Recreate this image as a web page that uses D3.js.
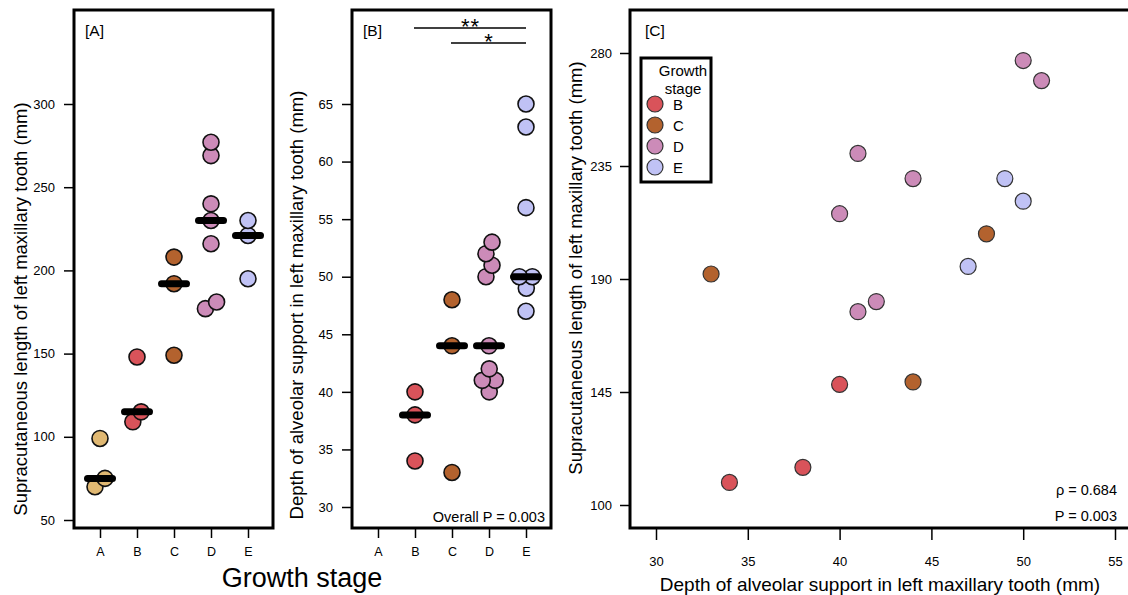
<!DOCTYPE html>
<html>
<head>
<meta charset="utf-8">
<script src="https://cdn.jsdelivr.net/npm/d3@7"></script>
<style>
  body { margin: 0; background: #fff; }
  svg { font-family: 'Liberation Sans', Arial, sans-serif; }
</style>
</head>
<body>
<svg id="chart" width="1128" height="595"></svg>
<script>
// growth stages and their colours
const stages = ['A', 'B', 'C', 'D', 'E'];
const stageColors = ['#e0b872', '#d9535a', '#b3622e', '#cc8bb8', '#c0c2f5'];

// [A] supracutaneous length (mm) by stage
const lengthA = [70, 75, 99];
const lengthB = [109, 115, 148];
const lengthC = [149, 192, 208];
const lengthD = [177, 181, 216, 230, 240, 269, 277];
const lengthE = [195, 221, 230];

// [B] depth of alveolar support (mm) by stage
const depthA = [];
const depthB = [34, 38, 40];
const depthC = [33, 44, 48];
const depthD = [40, 41, 41, 42, 44, 50, 51, 52, 53];
const depthE = [47, 49, 50, 50, 56, 63, 65];

// [C] paired measurements
const scatterStage = ['B', 'B', 'B', 'C', 'C', 'C', 'D', 'D', 'D', 'D', 'D', 'D', 'D', 'E', 'E', 'E'];
const scatterDepth = [34, 38, 40, 33, 44, 48, 40, 41, 44, 41, 42, 50, 51, 47, 49, 50];
const scatterLength = [109, 115, 148, 192, 149, 208, 216, 240, 230, 177, 181, 277, 269, 195, 230, 221];

// ticks
const ticksLengthA = [50, 100, 150, 200, 250, 300];
const ticksDepthB = [30, 35, 40, 45, 50, 55, 60, 65];
const ticksDepthC = [30, 35, 40, 45, 50, 55];
const ticksLengthC = [100, 145, 190, 235, 280];

// significance brackets
const sigFrom = ['B', 'C'];
const sigTo = ['E', 'E'];
const sigLabel = ['**', '*'];

const overallP = 'Overall P = 0.003';
const rhoText = '\u03c1 = 0.684';
const corrP = 'P = 0.003';

const color = d3.scaleOrdinal().domain(stages).range(stageColors);
const svg = d3.select('#chart');

const plotTop = 10, plotBottom = 528;
const R = 8;
const titleSize = 18.5;

// beeswarm-ish horizontal offsets, computed in pixel space
function swarm(values, y, c) {
  const order = values.map((v, i) => i).sort((a, b) => values[a] - values[b]);
  const placed = [];
  const off = values.map(() => 0);
  order.forEach(i => {
    const py = y(values[i]);
    const near = placed.filter(p => Math.abs(p.y - py) < c);
    const cands = [0];
    near.forEach(p => {
      const dx = Math.sqrt(c * c - (p.y - py) ** 2);
      cands.push(p.x + dx, p.x - dx);
    });
    cands.sort((a, b) => Math.abs(a) - Math.abs(b) || b - a);
    const x = cands.find(cx => near.every(p => Math.hypot(p.x - cx, p.y - py) >= c - 1e-6));
    placed.push({ i, y: py, x });
  });
  let cluster = [];
  const flush = () => {
    const m = d3.mean(cluster, p => p.x);
    cluster.forEach(p => { off[p.i] = p.x - m; });
    cluster = [];
  };
  placed.forEach((p, k) => {
    if (k > 0 && Math.abs(p.y - placed[k - 1].y) >= c) flush();
    cluster.push(p);
  });
  if (cluster.length) flush();
  return off;
}

function stripPanel(opts) {
  const { left, right, groups, y, ticks, tag, title, titleX, titleY } = opts;
  const x = d3.scalePoint().domain(stages).range([left + 26, right - 25]);
  const g = svg.append('g');

  g.append('g')
    .attr('transform', `translate(${left},0)`)
    .call(d3.axisLeft(y).tickValues(ticks).tickSize(10).tickPadding(9))
    .call(a => a.select('.domain').remove())
    .call(a => a.selectAll('line').attr('stroke', '#000').attr('stroke-width', 1.5))
    .call(a => a.selectAll('text').attr('font-size', 13).attr('fill', '#000'));

  g.append('g')
    .attr('transform', `translate(0,${plotBottom})`)
    .call(d3.axisBottom(x).tickSize(10).tickPadding(9))
    .call(a => a.select('.domain').remove())
    .call(a => a.selectAll('line').attr('stroke', '#000').attr('stroke-width', 1.5))
    .call(a => a.selectAll('text').attr('font-size', 12.5).attr('fill', '#000'));

  g.append('text')
    .attr('transform', `translate(${titleX},${titleY}) rotate(-90)`)
    .attr('text-anchor', 'middle')
    .attr('dominant-baseline', 'central')
    .attr('font-size', titleSize)
    .text(title);

  stages.forEach((s, k) => {
    const vals = groups[k];
    if (!vals.length) return;
    const off = swarm(vals, y, 13);
    g.append('g').selectAll('circle')
      .data(vals)
      .join('circle')
      .attr('cx', (d, i) => x(s) + off[i])
      .attr('cy', d => y(d))
      .attr('r', R)
      .attr('fill', color(s))
      .attr('stroke', '#111')
      .attr('stroke-width', 1.6);
  });

  stages.forEach((s, k) => {
    const vals = groups[k];
    if (!vals.length) return;
    const m = d3.median(vals);
    g.append('line')
      .attr('x1', x(s) - 12.5).attr('x2', x(s) + 12.5)
      .attr('y1', y(m)).attr('y2', y(m))
      .attr('stroke', '#000')
      .attr('stroke-width', 7)
      .attr('stroke-linecap', 'round');
  });

  g.append('rect')
    .attr('x', left).attr('y', plotTop)
    .attr('width', right - left).attr('height', plotBottom - plotTop)
    .attr('fill', 'none').attr('stroke', '#000').attr('stroke-width', 3);

  g.append('text')
    .attr('x', left + 11).attr('y', 36)
    .attr('font-size', 15.5)
    .text(tag);

  return { g, x };
}

// [A]
const yA = d3.scaleLinear().domain([50, 300]).range([520, 104]);
stripPanel({
  left: 74, right: 273,
  groups: [lengthA, lengthB, lengthC, lengthD, lengthE],
  y: yA, ticks: ticksLengthA, tag: '[A]',
  title: 'Supracutaneous length of left maxillary tooth (mm)',
  titleX: 20, titleY: 309
});

// [B]
const yB = d3.scaleLinear().domain([30, 65]).range([507, 104]);
const pB = stripPanel({
  left: 352, right: 551,
  groups: [depthA, depthB, depthC, depthD, depthE],
  y: yB, ticks: ticksDepthB, tag: '[B]',
  title: 'Depth of alveolar support in left maxillary tooth (mm)',
  titleX: 296, titleY: 305
});

sigFrom.forEach((f, i) => {
  const ly = 28 + i * 15;
  pB.g.append('line')
    .attr('x1', pB.x(f) - 1).attr('x2', pB.x(sigTo[i]))
    .attr('y1', ly).attr('y2', ly)
    .attr('stroke', '#000').attr('stroke-width', 1.5);
  pB.g.append('text')
    .attr('x', (pB.x(f) + pB.x(sigTo[i])) / 2)
    .attr('y', ly + 5.6)
    .attr('text-anchor', 'middle')
    .attr('font-size', 22)
    .attr('letter-spacing', 1)
    .text(sigLabel[i]);
});

pB.g.append('text')
  .attr('x', 545).attr('y', 522)
  .attr('text-anchor', 'end')
  .attr('font-size', 14.5)
  .text(overallP);

svg.append('text')
  .attr('x', 302).attr('y', 587)
  .attr('text-anchor', 'middle')
  .attr('font-size', 27)
  .text('Growth stage');

// [C]
const cLeft = 630, cRight = 1140;
const xC = d3.scaleLinear().domain([30, 55]).range([656, 1115]);
const yC = d3.scaleLinear().domain([100, 280]).range([505, 53]);
const gC = svg.append('g');

gC.append('g')
  .attr('transform', `translate(${cLeft},0)`)
  .call(d3.axisLeft(yC).tickValues(ticksLengthC).tickSize(10).tickPadding(8))
  .call(a => a.select('.domain').remove())
  .call(a => a.selectAll('line').attr('stroke', '#000').attr('stroke-width', 1.5))
  .call(a => a.selectAll('text').attr('font-size', 13).attr('fill', '#000'));

gC.append('g')
  .attr('transform', `translate(0,${plotBottom})`)
  .call(d3.axisBottom(xC).tickValues(ticksDepthC).tickSize(12).tickPadding(17))
  .call(a => a.select('.domain').remove())
  .call(a => a.selectAll('line').attr('stroke', '#000').attr('stroke-width', 1.5))
  .call(a => a.selectAll('text').attr('font-size', 13).attr('fill', '#000'));

gC.selectAll('circle.pt')
  .data(scatterDepth)
  .join('circle')
  .attr('class', 'pt')
  .attr('cx', d => xC(d))
  .attr('cy', (d, i) => yC(scatterLength[i]))
  .attr('r', R)
  .attr('fill', (d, i) => color(scatterStage[i]))
  .attr('stroke', '#333')
  .attr('stroke-width', 1.2);

gC.append('rect')
  .attr('x', cLeft).attr('y', plotTop)
  .attr('width', cRight - cLeft).attr('height', plotBottom - plotTop)
  .attr('fill', 'none').attr('stroke', '#000').attr('stroke-width', 3);

gC.append('text')
  .attr('x', cLeft + 15).attr('y', 36)
  .attr('font-size', 15.5)
  .text('[C]');

gC.append('text')
  .attr('transform', 'translate(575,268) rotate(-90)')
  .attr('text-anchor', 'middle')
  .attr('dominant-baseline', 'central')
  .attr('font-size', titleSize)
  .text('Supracutaneous length of left maxillary tooth (mm)');

gC.append('text')
  .attr('x', 880).attr('y', 591)
  .attr('text-anchor', 'middle')
  .attr('font-size', 19)
  .text('Depth of alveolar support in left maxillary tooth (mm)');

gC.append('text')
  .attr('x', 1117).attr('y', 495)
  .attr('text-anchor', 'end')
  .attr('font-size', 14.5)
  .text(rhoText);

gC.append('text')
  .attr('x', 1117).attr('y', 521)
  .attr('text-anchor', 'end')
  .attr('font-size', 14.5)
  .text(corrP);

// legend
const legendStages = stages.filter(s => scatterStage.includes(s));
const lg = gC.append('g').attr('transform', 'translate(641,58)');
lg.append('rect')
  .attr('width', 70).attr('height', 124)
  .attr('fill', '#fff').attr('stroke', '#000').attr('stroke-width', 3);
lg.append('text')
  .attr('x', 42).attr('y', 18)
  .attr('text-anchor', 'middle')
  .attr('font-size', 15)
  .text('Growth');
lg.append('text')
  .attr('x', 42).attr('y', 36)
  .attr('text-anchor', 'middle')
  .attr('font-size', 15)
  .text('stage');
const items = lg.selectAll('g.item')
  .data(legendStages)
  .join('g')
  .attr('class', 'item')
  .attr('transform', (d, i) => `translate(0,${46 + i * 21})`);
items.append('circle')
  .attr('cx', 14).attr('r', R)
  .attr('fill', d => color(d))
  .attr('stroke', '#333').attr('stroke-width', 1.2);
items.append('text')
  .attr('x', 32).attr('y', 5.5)
  .attr('font-size', 15)
  .text(d => d);
</script>
</body>
</html>
